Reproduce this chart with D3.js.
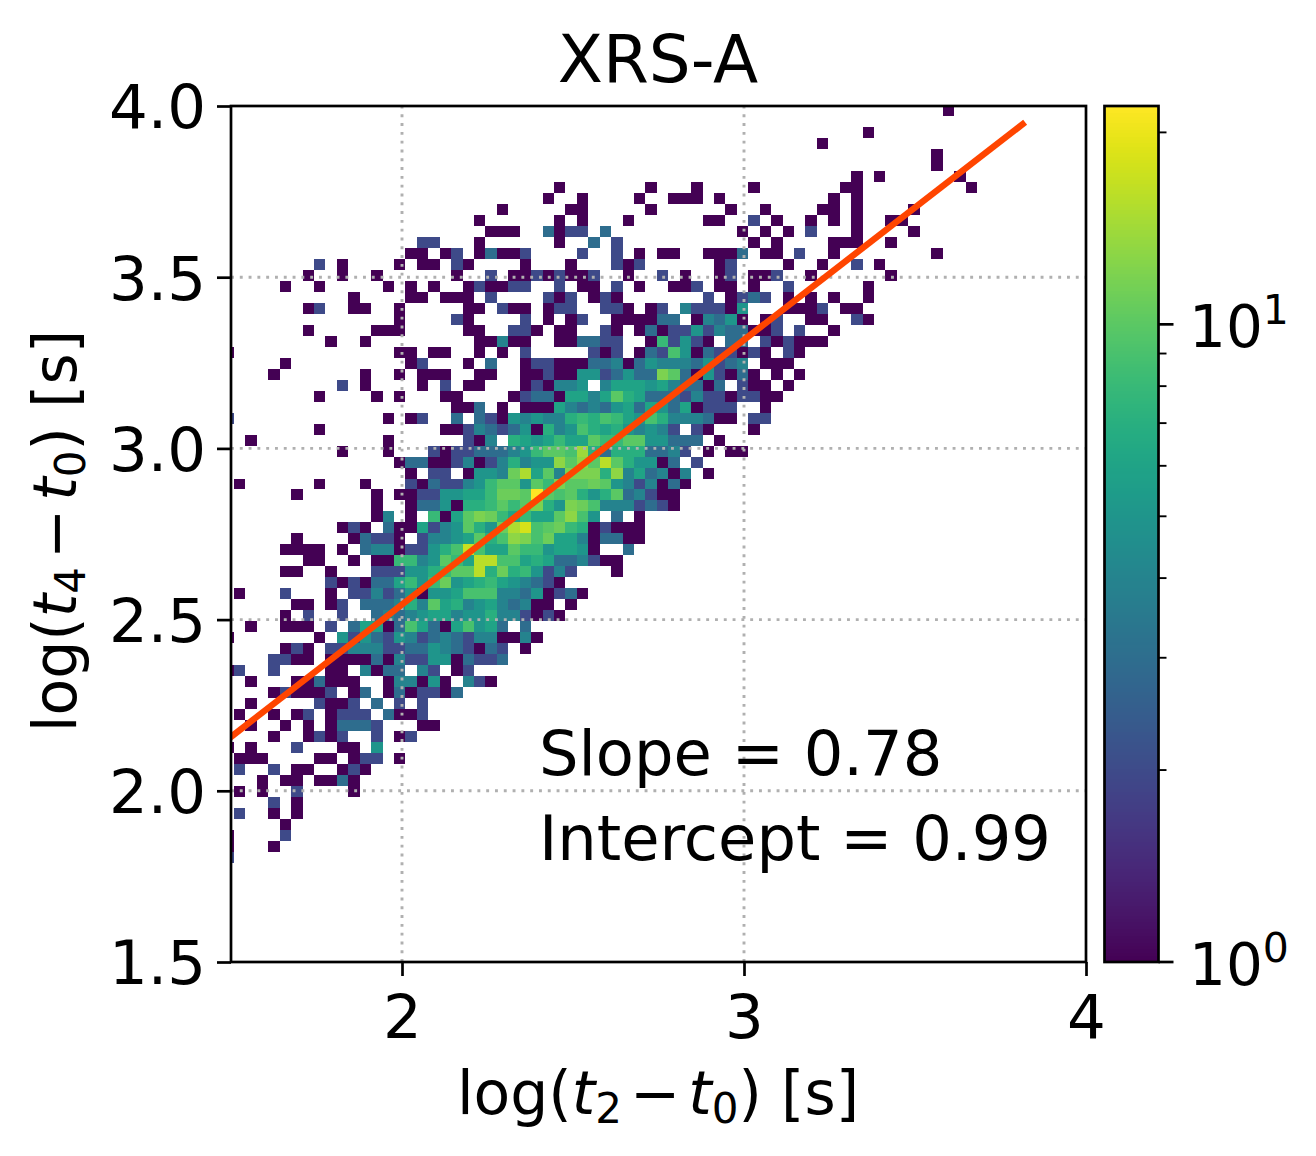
<!DOCTYPE html>
<html><head><meta charset="utf-8">
<script src="https://cdnjs.cloudflare.com/ajax/libs/d3/7.8.5/d3.min.js"></script>
<style>
html,body{margin:0;padding:0;background:#fff}
text{font-family:"DejaVu Sans",sans-serif;fill:#000}
</style></head><body>
<svg id="c" width="1316" height="1156"></svg>
<script>
// 2D histogram: bin origin/size in data units
const binX0 = 1.5088, binW = 0.03342;
const binY0 = 3.7138, binH = 0.03207;
const vMin = 1, vMax = 22;
const fitX = [1.45, 3.822];
const fitSlope = 0.773, fitIntercept = 0.998;
const xTicks = [2, 3, 4];
const yTicks = [1.5, 2, 2.5, 3, 3.5, 4];
const yGrid = [2, 2.5, 3, 3.5];
const xGrid = [2, 3];
const cbMajor = [1, 10];
const cbMinor = [2, 3, 4, 5, 6, 7, 8, 9, 20];
const firstRow = -9;
// one string per y-bin: "xbin:count" or "xbinA-xbinB:count"
const rows = [
"62:1","","55:1","51:1","61:1","61:1","54:1 56:1 63:1",
"28:1 36:1 40:1 45:1 53-54:1 64:1",
"27:1 30:1 35:1 38-40:1 42:1 52:1 54:1",
"23:1 29-30:1 36:1 43:1 46:1 51-52:1 54:1 59:1",
"21:1 28:1 30:1 34:1 41-42:1 45:2 47:1 50:1 52:1 54:1 57-58:1",
"22-24:1 27:3 28:1 29-30:2 32:3 44:1 46:1 48:1 50:2 54:1 59:1",
"16-17:2 21:1 28:1 31:3 33:2 45:1 47:1 52-54:1 57:1",
"15-16:1 18:1 19:2 21:1 22:3 23-24:1 25:2 30:2 33:2 35:1 37-38:1 41-43:1 44:3 46-47:1 49:2 52:1 61:1",
"7:2 9:1 14:1 16-17:1 19:2 20:1 25:1 29:1 33:2 34:1 35:2 42:1 43:2 48:1 51:1 54:2 56:1",
"6:1 9:1 12:1 19:1 22:2 24-25:1 26:2 27:1 28:2 29-30:1 31:2 34:1 37:2 39:1 42:1 43:2 45-46:1 47:2 50:1 57:1",
"4:1 7:1 13:1 15:1 17:1 20:1 21:2 22-23:1 24-25:2 28:2 30-31:1 33:2 35:1 38-39:1 40:2 42-43:1 45:1 48:2 55:1",
"10:1 15-16:1 18-20:1 22:2 27:2 28:1 29:2 31:1 32:2 33:1 41:2 43:1 44:2 45:3 46:2 48:1 50:1 52:1 55:1",
"6:1 7:2 10-11:1 14:1 20-21:1 23:2 24-25:1 27:1 28-29:2 32-33:2 34:1 36:1 37:2 39:4 40-42:2 43:1 44:5 48-50:1 51:2 53-54:1",
"14:1 19:2 20:1 25:2 27:1 29:1 30:2 33-36:1 37-38:3 40:1 41:4 42:3 43:5 44:1 46:1 47:2 50-51:1 54:2 55:1",
"6:1 12-14:1 20-21:1 24-25:2 26:1 28-29:1 32:2 33:1 35:1 36:3 37:1 38-39:2 40:5 41:2 42:4 43-44:3 45-46:1 47:2 49:2 52:1",
"8:1 11:1 21-22:1 23:4 24-25:1 28-29:1 30-31:3 32-33:2 36:1 37:8 38:2 39:5 40:2 41:1 43-44:3 46:2 47:1 48:2 49-51:1",
"-1:1 14-15:1 17-18:1 21:1 23:1 25:2 31:2 32:1 33:2 35:1 36:3 37:2 38:9 39:5 40:1 41:3 42-43:2 44:1 45:2 46:1 48:2 49:1",
"4:1 15:1 16:2 20:1 22:3 25:1 26-27:2 28-30:1 31-32:3 33:4 34:1 35:3 36:5 37-39:4 40:3 41:5 42:2 43:3 44:4 46-48:1",
"3:1 11:1 14:1 16-18:1 21-22:1 25-26:1 27:2 28-29:1 30-31:5 32:2 33:3 34:5 35-36:3 37:12 38:10 39:3 40:1 41:5 42:2 43:1 44:3 45:1 47:1 49:1",
"9:2 11:1 16:1 18:2 20-21:1 25:1 26:2 27:1 28-29:4 30:5 32:4 33:6 34-35:6 36:5 37:6 38:4 39-40:3 41:1 42:3 44:2 45-46:1 48:1",
"7:1 12:1 14:1 18-19:1 24:1 25:2 26-27:3 28:1 29-30:6 31:4 32:6 33:10 34:7 35:6 36-38:3 39:2 40:4 41-42:2 43:1 44-45:2 46-47:1",
"19-20:1 21:3 23:1 25-27:1 28:6 29:4 30:3 31:4 32:3 33:5 34:6 35:3 36:6 37:5 38:3 39:6 40:1 41-43:2 46:1",
"-1:2 13:1 15:1 16:2 19:3 21:3 22:2 23:1 24:5 25:4 26:5 27-28:4 29:7 30:8 31:7 32:9 33:8 34:6 35:5 36:9 37:7 38-40:4 41:3 42-43:1 45-46:2",
"7:1 18-19:1 20:2 21:4 22:3 23:2 24:3 25:5 26:1 27:7 28:4 29:5 30:9 31:7 32:6 33:7 34:5 35:4 36:5 37:4 38:2 40:2 41:1 45:1",
"1:1 13:1 20:2 21:1 22:4 24:7 25:6 26:5 27:6 28:8 29-30:6 31:10 32:8 33:8 34-35:10 36-37:5 38-40:3 42:1",
"9:1 13:1 17:2 18:1 19-20:2 21-23:3 24:4 25:5 26:8 27-28:10 29:9 30:14 31:7 32:3 33:7 34-35:7 36-37:3 38:4 39:2 41:1 43-44:1",
"14:1 15-16:3 17-18:1 19:2 20:4 21:1 22:2 23:4 24:7 25:4 26-27:5 28:13 29:10 30:13 31:10 32:16 33:10 34:7 35-36:5 37:1 38:3 40:2",
"15:1 17-18:2 20:1 21-22:5 23:4 24:11 25:15 26:6 27:10 28:4 29-31:12 32:7 33:13 34:4 35:6 36:3 37:4 38:1 39:4 41:1",
"0:1 7:1 11:1 15:2 16:1 17:3 18-19:2 20:4 21:5 22:8 23-24:10 25:5 26:10 27:8 28:12 29-30:10 31:11 32:10 33:5 34:4 35:2 36:4 37:1 38:3 39:1",
"5:1 12:1 14-15:1 16-17:2 18-19:5 20-21:6 22:8 23-24:11 25:10 26:22 27:10 28:9 29:10 30:7 31:5 32:7 33:10 34:3 35:4 36:2 37-38:1",
"12:1 15:1 16-17:3 18:5 19:1 20-21:7 22:8 23:10 24:8 25:10 26:12 27:7 28:5 29:12 30:11 31:9 32-34:4 35:2 36:3 37:2 38:1",
"12:1 13:4 15:1 17:8 18:1 19:6 20:10 21:12 22:11 23:8 24:6 25:8 26-27:6 28:10 29:13 30:9 31:5 33:3 35:1",
"9:1 10:2 11:1 13:3 14-15:1 16:6 17:2 18:4 19:5 20:10 21:7 22:5 23:11 24:15 25:18 26:9 27:10 28:11 29:8 30:7 31:1 32:2 33-35:1",
"5:1 10:1 11:3 12-13:2 14:1 16:2 17-18:4 19:5 20:6 21:10 22:7 23:9 24:13 25:12 26:9 27:11 28-29:6 30:4 31:1 32-33:3 34-35:1",
"4-7:1 9:1 11:3 12-13:4 14:1 15-16:2 17:5 18:7 19:9 20:17 21:9 22-23:6 24:10 25-26:8 27:5 28-29:6 30:5 31:1 34:3",
"6-7:1 10:1 12-13:1 14-15:8 16:4 17:5 18:10 19:8 20:6 21-22:16 23-24:9 25:6 26:7 27:6 28-29:3 30:4 31:2 32-33:1",
"4-5:1 8:1 12-14:2 15-16:5 17:7 18:8 19-20:10 21:16 22:7 23:11 24:7 25:8 26:5 27:2 28:4 29:2 33:1",
"8:2 9:1 10:2 11:1 12-13:3 14:6 15:8 16:5 17:8 18:11 19:5 20:6 21:7 22:8 23:6 24:5 25:4 26:3 27:2 28:1",
"0:1 4:2 8:1 10-11:2 12:4 13:2 14:3 15:5 16:1 17-18:5 19:6 20-22:9 23-24:4 25:3 26:5 27:1 28:2 29:3 30:1",
"5-6:1 8:1 9:2 11-13:3 14:4 15:7 16:4 17:10 18:6 19:7 20:4 21:5 22:6 23:4 24:3 25:4 26-27:1 29:1",
"4:1 6:2 9:2 12:3 13:4 14:3 15:4 16:5 17-18:6 19:4 20-21:5 22:7 23-24:4 25:2 26:1 27:2 28:1",
"1:1 4-6:1 8:2 10:3 11-12:6 13:1 14:3 15:9 16:6 17:3 18:1 19:6 20:9 21:5 22:6 23:3 25:3",
"-1:1 7:1 9:5 10:2 11:5 12:3 13:2 14:5 15:4 16:2 17:3 18:4 19:3 20:2 21-22:4 23-24:1 25:4 26:1",
"4:1 5:2 6:1 8-9:2 10-12:4 13-14:2 15-16:3 17:5 18:4 19:3 20:2 21:1 22:3 23:2 25:1",
"3-4:2 5-6:1 8-11:1 12:3 13:1 14:4 15-16:2 17-18:5 19:1 20:3 21-22:2 23:3",
"-1:1 0:2 3:2 8-9:1 11:4 12:1 13-14:3 16:4 17:2 19:1 20:2",
"1:1 5-6:1 7:3 8-10:1 13:1 14-15:4 16:1 17:5 18:1 20:4 21:2 22:1",
"3:1 4:2 5-7:1 8:2 10:1 11:3 13:1 14:3 15:1 16-17:2 18:1 19:3",
"1:1 7:2 8-9:1 10:2 12:3 14:2 16:2",
"0:1 3:1 5:1 6:2 8:1 9-11:2 13:3 14-15:1 16:2",
"1:1 4:1 6:1 8:1 9-11:3 12:2 16-17:1",
"3:1 6:1 7:2 8:1 9:2 12:2 14:1 15:2",
"-1:1 1:1 5:2 9-10:1 12:5",
"0-2:1 7-8:1 10:1 11-12:2 14:1",
"0:2 3:2 5-6:1 9:1 10:2 11:1",
"2:1 4-5:1 7-8:1 9:3 10:1",
"0:1 2:1 5:2 10:1",
"3:2 5:1",
"0:2 3:1 5:1",
"4:1",
"-1:1 4:2",
"-1:1 3:1",
"-1:2"
];

const cells = [];
rows.forEach((s, r) => {
  if (!s) return;
  s.split(" ").forEach(tok => {
    const m = tok.match(/^(-?\d+)(?:-(\d+))?:(\d+)$/);
    const a = +m[1], b = m[2] !== undefined ? +m[2] : a, v = +m[3];
    for (let i = a; i <= b; i++) cells.push({ i, k: r + firstRow, v });
  });
});

const svg = d3.select("#c");
const L = 231, R = 1086, T = 106, B = 962;
const x = d3.scaleLinear().domain([1.5, 4]).range([L, R]);
const y = d3.scaleLinear().domain([1.5, 4]).range([B, T]);
const norm = d3.scaleLog().domain([vMin, vMax]).range([0, 1]);
const color = v => d3.interpolateViridis(norm(v));
const SW = 2.7;

svg.append("defs").append("clipPath").attr("id", "plot")
  .append("rect").attr("x", L).attr("y", T).attr("width", R - L).attr("height", B - T);

const plot = svg.append("g").attr("clip-path", "url(#plot)");
plot.append("g").attr("shape-rendering", "crispEdges").selectAll("rect").data(cells).join("rect")
  .attr("x", d => x(binX0 + d.i * binW))
  .attr("width", d => x(binX0 + (d.i + 1) * binW) - x(binX0 + d.i * binW))
  .attr("y", d => y(binY0 - d.k * binH))
  .attr("height", d => y(binY0 - (d.k + 1) * binH) - y(binY0 - d.k * binH))
  .attr("fill", d => color(d.v));

// grid
const gridStyle = s => s.attr("stroke", "#b0b0b0").attr("stroke-width", 2.9).attr("stroke-dasharray", "2.9,5.9");
plot.selectAll(".gx").data(xGrid).join("line").attr("class", "gx")
  .attr("x1", d => x(d)).attr("x2", d => x(d)).attr("y1", B).attr("y2", T).call(gridStyle);
plot.selectAll(".gy").data(yGrid).join("line").attr("class", "gy")
  .attr("y1", d => y(d)).attr("y2", d => y(d)).attr("x1", L).attr("x2", R).call(gridStyle);

// fit line
const fitLine = d3.line().x(d => x(d)).y(d => y(fitSlope * d + fitIntercept));
plot.append("path").attr("d", fitLine(fitX)).attr("fill", "none")
  .attr("stroke", "#ff4500").attr("stroke-width", 6.4);

// frame
svg.append("rect").attr("x", L).attr("y", T).attr("width", R - L).attr("height", B - T)
  .attr("fill", "none").attr("stroke", "#000").attr("stroke-width", SW);

// axes
const TICK_FS = 61;
const xAxis = d3.axisBottom(x).tickValues(xTicks).tickFormat(d3.format("d")).tickSize(14).tickPadding(19);
const xg = svg.append("g").attr("transform", `translate(0,${B})`).call(xAxis);
const yAxis = d3.axisLeft(y).tickValues(yTicks).tickFormat(d3.format(".1f")).tickSize(14).tickPadding(11);
const yg = svg.append("g").attr("transform", `translate(${L},0)`).call(yAxis);
[xg, yg].forEach(g => {
  g.select(".domain").remove();
  g.selectAll("line").attr("stroke", "#000").attr("stroke-width", SW);
  g.selectAll("text").attr("font-size", TICK_FS).attr("font-family", '"DejaVu Sans"');
});
yg.selectAll("text").attr("dy", "0.36em");

// title
svg.append("text").attr("x", 658).attr("y", 82).attr("text-anchor", "middle").attr("font-size", 66).text("XRS-A");

function mathLabel(sel, sub1) {
  const fs = 60, sub = 42;
  sel.attr("font-size", fs);
  sel.append("tspan").text("log(");
  sel.append("tspan").attr("font-style", "italic").text("t");
  sel.append("tspan").attr("font-size", sub).attr("dy", 9).text(sub1);
  sel.append("tspan").attr("dy", -9).attr("dx", 8).text("\u2212");
  sel.append("tspan").attr("dx", 8).attr("font-style", "italic").text("t");
  sel.append("tspan").attr("font-size", sub).attr("dy", 9).text("0");
  sel.append("tspan").attr("dy", -9).text(") [s]");
}
svg.append("text").attr("x", 658).attr("y", 1114).attr("text-anchor", "middle").call(mathLabel, "2");
svg.append("text").attr("transform", "translate(76,531) rotate(-90)").attr("text-anchor", "middle").call(mathLabel, "4");

// annotations
svg.append("text").attr("x", 539).attr("y", 775).attr("font-size", 62.3).text("Slope = 0.78");
svg.append("text").attr("x", 539).attr("y", 860).attr("font-size", 62.3).text("Intercept = 0.99");

// colourbar
const cbL = 1104.5, cbR = 1158.5;
const cy = d3.scaleLog().domain([vMin, vMax]).range([B, T]);
const nSlices = 256;
svg.append("g").attr("shape-rendering", "crispEdges").selectAll("rect").data(d3.range(nSlices)).join("rect")
  .attr("x", cbL).attr("width", cbR - cbL)
  .attr("y", d => B - (B - T) * (d + 1) / nSlices)
  .attr("height", (B - T) / nSlices + 0.6)
  .attr("fill", d => d3.interpolateViridis((d + 0.5) / nSlices));
svg.append("rect").attr("x", cbL).attr("y", T).attr("width", cbR - cbL).attr("height", B - T)
  .attr("fill", "none").attr("stroke", "#000").attr("stroke-width", SW);
svg.selectAll(".cbM").data(cbMajor).join("line").attr("class", "cbM")
  .attr("x1", cbR).attr("x2", cbR + 15).attr("y1", d => cy(d)).attr("y2", d => cy(d))
  .attr("stroke", "#000").attr("stroke-width", SW);
svg.selectAll(".cbm").data(cbMinor).join("line").attr("class", "cbm")
  .attr("x1", cbR).attr("x2", cbR + 8).attr("y1", d => cy(d)).attr("y2", d => cy(d))
  .attr("stroke", "#000").attr("stroke-width", 1.9);
cbMajor.forEach((v, j) => {
  const t = svg.append("text").attr("x", 1189).attr("y", cy(v) + 23).attr("font-size", 58);
  t.append("tspan").text("10");
  t.append("tspan").attr("font-size", 41).attr("dy", -23).text(String(j));
});
</script>
</body></html>
